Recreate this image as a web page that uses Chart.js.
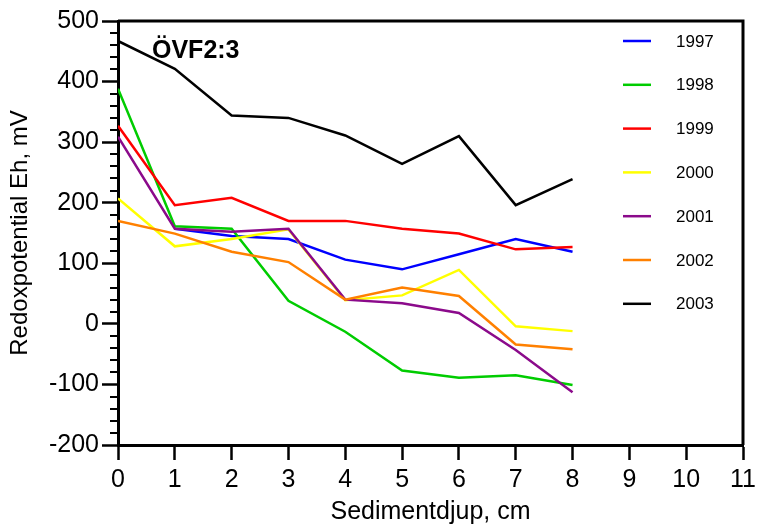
<!DOCTYPE html>
<html>
<head>
<meta charset="utf-8">
<script src="https://cdn.jsdelivr.net/npm/chart.js@4.4.1/dist/chart.umd.min.js"></script>
<style>
  html, body { margin: 0; padding: 0; background: #fff; }
  #wrap { width: 757px; height: 526px; }
</style>
</head>
<body>
<div id="wrap"><canvas id="ehChart" width="757" height="526"></canvas></div>
<script>
// Sediment depth (cm) and redox potential Eh (mV) per year
const depths = [0, 1, 2, 3, 4, 5, 6, 7, 8];
const years = ['1997', '1998', '1999', '2000', '2001', '2002', '2003'];
const eh1997 = [null, 157, 145, 140, 106, 90, 115, 140, 119];
const eh1998 = [388, 161, 157, 38, -13, -77, -89, -85, -101];
const eh1999 = [327, 196, 208, 170, 170, 157, 149, 123, 127];
const eh2000 = [207, 128, 140, 156, 39, 47, 89, -4, -12];
const eh2001 = [309, 157, 152, 157, 40, 34, 18, -43, -113];
const eh2002 = [170, 149, 119, 102, 40, 60, 46, -34, -42];
const eh2003 = [467, 421, 344, 340, 311, 264, 310, 196, 239];
const yTicks = [-200, -100, 0, 100, 200, 300, 400, 500];
const xTicks = [0, 1, 2, 3, 4, 5, 6, 7, 8, 9, 10, 11];

const series = [eh1997, eh1998, eh1999, eh2000, eh2001, eh2002, eh2003];
const colors = ['#0000ff', '#00cc00', '#ff0000', '#ffff00', '#8b0a8b', '#ff8000', '#000000'];
const FONT = '"Liberation Sans", Arial, sans-serif';

const datasets = series.map((vals, i) => ({
    label: years[i],
    data: depths.map((d, j) => ({ x: d, y: vals[j] })),
    borderColor: colors[i],
    backgroundColor: colors[i],
    borderWidth: 2.5,
    pointRadius: 0,
    tension: 0,
    order: series.length - i
}));

// frame, minor y ticks, station name and legend inside the plot
const extras = {
    id: 'extras',
    afterDraw(chart) {
        const { ctx, chartArea: a, scales: { y } } = chart;
        ctx.save();
        ctx.strokeStyle = '#000';
        ctx.lineWidth = 3;
        ctx.beginPath();
        ctx.moveTo(a.left, a.top);
        ctx.lineTo(a.right, a.top);
        ctx.lineTo(a.right, a.bottom);
        ctx.stroke();

        ctx.lineWidth = 2;
        for (let v = yTicks[0]; v <= yTicks[yTicks.length - 1]; v += 20) {
            if (v % 100 === 0) continue;
            const py = Math.round(y.getPixelForValue(v));
            ctx.beginPath();
            ctx.moveTo(a.left - 8, py);
            ctx.lineTo(a.left, py);
            ctx.stroke();
        }

        ctx.fillStyle = '#000';
        ctx.font = 'bold 25px ' + FONT;
        ctx.textBaseline = 'alphabetic';
        ctx.textAlign = 'left';
        ctx.fillText('ÖVF2:3', a.left + 34, a.top + 37);

        ctx.font = '17px ' + FONT;
        ctx.textBaseline = 'middle';
        chart.data.datasets.forEach((ds, i) => {
            const ly = a.top + 20 + i * 43.8;
            ctx.strokeStyle = ds.borderColor;
            ctx.lineWidth = 2.5;
            ctx.beginPath();
            ctx.moveTo(a.right - 120, ly);
            ctx.lineTo(a.right - 92, ly);
            ctx.stroke();
            ctx.fillText(ds.label, a.right - 67, ly + 1);
        });
        ctx.restore();
    }
};

new Chart(document.getElementById('ehChart').getContext('2d'), {
    type: 'line',
    data: { datasets },
    options: {
        responsive: false,
        animation: false,
        layout: { padding: { top: 21, right: 14, left: 0, bottom: 0 } },
        plugins: {
            legend: { display: false },
            tooltip: { enabled: false }
        },
        scales: {
            x: {
                type: 'linear',
                min: 0,
                max: 11,
                afterFit: s => { s.height = 81; s.paddingRight = 0; s.paddingLeft = 0; },
                afterBuildTicks: s => { s.ticks = xTicks.map(v => ({ value: v })); },
                border: { color: '#000', width: 3 },
                grid: { drawOnChartArea: false, color: '#000', tickLength: 15, tickWidth: 2.5 },
                ticks: { color: '#000', padding: 5, font: { family: FONT, size: 25 }, maxRotation: 0 },
                title: {
                    display: true,
                    text: 'Sedimentdjup, cm',
                    color: '#000',
                    font: { family: FONT, size: 25, lineHeight: 1 },
                    padding: { top: 0, bottom: 1 }
                }
            },
            y: {
                min: -200,
                max: 500,
                afterFit: s => { s.width = 118; },
                afterBuildTicks: s => { s.ticks = yTicks.map(v => ({ value: v })); },
                border: { color: '#000', width: 3 },
                grid: { drawOnChartArea: false, color: '#000', tickLength: 16, tickWidth: 2.5 },
                ticks: { color: '#000', padding: 3, font: { family: FONT, size: 25 } },
                title: {
                    display: true,
                    text: 'Redoxpotential Eh, mV',
                    color: '#000',
                    font: { family: FONT, size: 24, lineHeight: 1 },
                    padding: { top: 8, bottom: 0 }
                }
            }
        }
    },
    plugins: [extras]
});
</script>
</body>
</html>
